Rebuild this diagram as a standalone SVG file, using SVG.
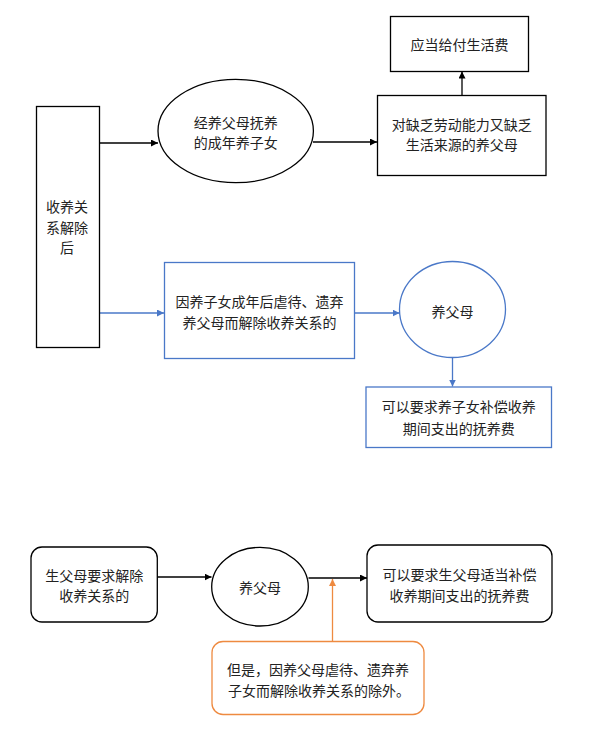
<svg xmlns="http://www.w3.org/2000/svg" width="591" height="742" viewBox="0 0 591 742">
<defs>
<style>
text{font-family:"Noto Sans CJK SC","Liberation Sans",sans-serif;font-size:14px;fill:#222;text-anchor:middle;dominant-baseline:central}
.k{fill:#fff;stroke:#000;stroke-width:1.3}
.b{fill:#fff;stroke:#4a78c8;stroke-width:1.3}
.o{fill:#fff;stroke:#ee8a40;stroke-width:1.3}
.lk{stroke:#000;stroke-width:1.3;fill:none}
.lb{stroke:#4a78c8;stroke-width:1.3;fill:none}
.lo{stroke:#ee8a40;stroke-width:1.3;fill:none}
</style>
<marker id="ak" viewBox="0 0 10 10" refX="10" refY="5" markerWidth="7" markerHeight="7" markerUnits="userSpaceOnUse" orient="auto"><path d="M0,0L10,5L0,10z" fill="#000"/></marker>
<marker id="ab" viewBox="0 0 10 10" refX="10" refY="5" markerWidth="7" markerHeight="7" markerUnits="userSpaceOnUse" orient="auto"><path d="M0,0L10,5L0,10z" fill="#4a78c8"/></marker>
<marker id="ao" viewBox="0 0 10 10" refX="10" refY="5" markerWidth="7" markerHeight="7" markerUnits="userSpaceOnUse" orient="auto"><path d="M0,0L10,5L0,10z" fill="#ee8a40"/></marker>
</defs>
<rect width="591" height="742" fill="#fff"/>
<g id="connectors">
<path class="lk" d="M99,143H158" marker-end="url(#ak)"/>
<path class="lk" d="M313,142H377" marker-end="url(#ak)"/>
<path class="lk" d="M462,95V71.5" marker-end="url(#ak)"/>
<path class="lb" d="M99,313H164" marker-end="url(#ab)"/>
<path class="lb" d="M354,313H399.5" marker-end="url(#ab)"/>
<path class="lb" d="M452.5,357.5V386.5" marker-end="url(#ab)"/>
<path class="lk" d="M157,577H211.5" marker-end="url(#ak)"/>
<path class="lk" d="M308.5,578H367" marker-end="url(#ak)"/>
<path class="lo" d="M332.5,641.5V579" marker-end="url(#ao)"/>
</g>
<g id="n-left">
<rect class="k" x="36.5" y="106.5" width="63" height="241"/>
<text x="67" y="206">收养关</text>
<text x="67" y="226.5">系解除</text>
<text x="67" y="247">后</text>
</g>
<g id="n-ellipse1">
<ellipse class="k" cx="235.7" cy="131" rx="77.7" ry="51.7"/>
<text x="235.7" y="121.7">经养父母抚养</text>
<text x="235.7" y="141.5">的成年养子女</text>
</g>
<g id="n-lack">
<rect class="k" x="377.5" y="95.5" width="168.5" height="80"/>
<text x="461.7" y="124">对缺乏劳动能力又缺乏</text>
<text x="461.7" y="144">生活来源的养父母</text>
</g>
<g id="n-living">
<rect class="k" x="390.5" y="16.5" width="138" height="55"/>
<text x="459.5" y="44">应当给付生活费</text>
</g>
<g id="n-abuse">
<rect class="b" x="164.5" y="262.5" width="190" height="96"/>
<text x="259.5" y="301">因养子女成年后虐待、遗弃</text>
<text x="259.5" y="321.5">养父母而解除收养关系的</text>
</g>
<g id="n-parents1">
<ellipse class="b" cx="452.5" cy="309.5" rx="53" ry="48"/>
<text x="452.5" y="310.5">养父母</text>
</g>
<g id="n-claim1">
<rect class="b" x="366" y="387" width="185.5" height="60.5"/>
<text x="458.7" y="405.5">可以要求养子女补偿收养</text>
<text x="458.7" y="427.5">期间支出的抚养费</text>
</g>
<g id="n-bio">
<rect class="k" x="31" y="547" width="126.3" height="75" rx="11"/>
<text x="94.2" y="574.5">生父母要求解除</text>
<text x="94.2" y="595">收养关系的</text>
</g>
<g id="n-parents2">
<ellipse class="k" cx="260" cy="586.7" rx="48.3" ry="39.3"/>
<text x="260" y="587">养父母</text>
</g>
<g id="n-claim2">
<rect class="k" x="367" y="545" width="185" height="77" rx="11"/>
<text x="459.5" y="573.5">可以要求生父母适当补偿</text>
<text x="459.5" y="594.5">收养期间支出的抚养费</text>
</g>
<g id="n-except">
<rect class="o" x="212" y="641.5" width="212" height="73" rx="11"/>
<text x="318" y="668.5">但是，因养父母虐待、遗弃养</text>
<text x="318" y="690" style="text-anchor:start" dx="-90">子女而解除收养关系的除外。</text>
</g>
</svg>
